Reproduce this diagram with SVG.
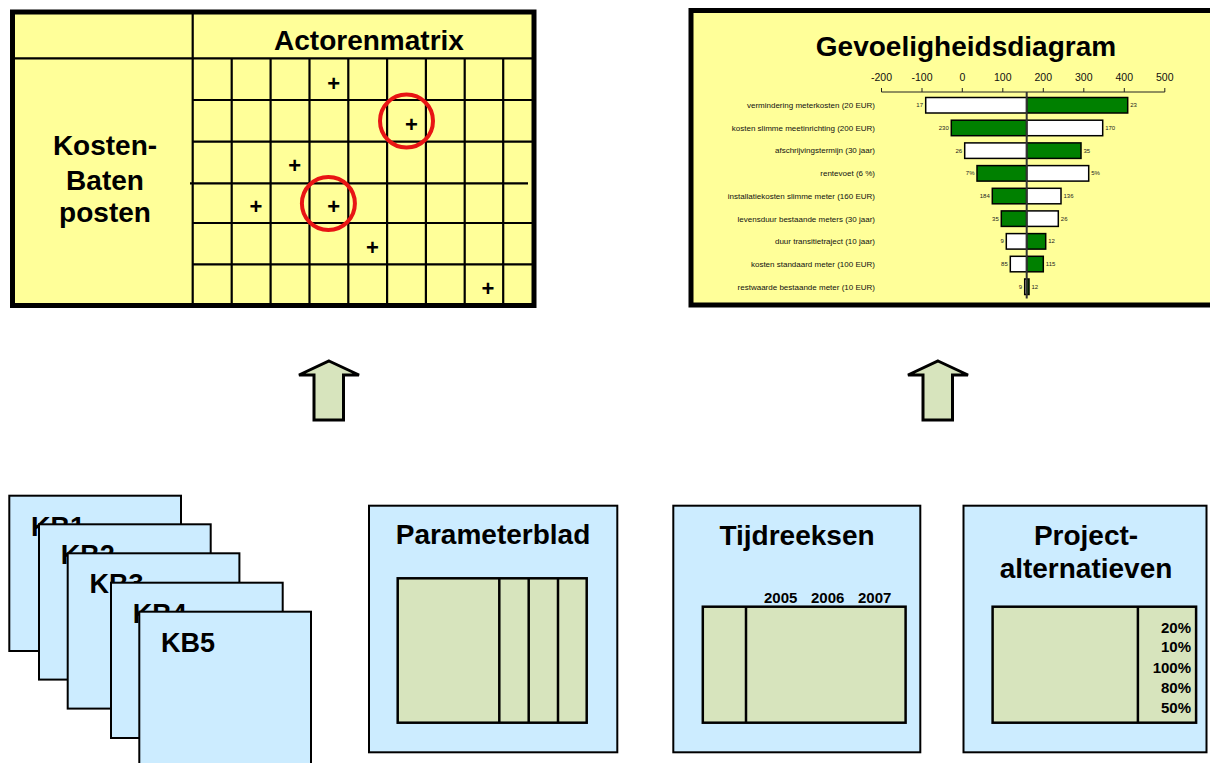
<svg xmlns="http://www.w3.org/2000/svg" width="1210" height="763" viewBox="0 0 1210 763">
<style>
text{font-family:"Liberation Sans",Arial,sans-serif;fill:#000}
.b{font-weight:bold}
.t{font-size:28px;font-weight:bold;text-anchor:middle}
.plus{font-size:22px;font-weight:bold;text-anchor:middle}
.grid{stroke:#000;stroke-width:2.2;fill:none}
.ring{fill:none;stroke:#E81414;stroke-width:4}
.rl{font-size:8px;text-anchor:end;fill:#111}
.vl{font-size:6px;fill:#222}
.vll{font-size:6px;fill:#222;text-anchor:end}
.tick{font-size:10.5px;text-anchor:middle;fill:#111}
.bw{fill:#FFFFFF;stroke:#000;stroke-width:1.5}
.bg{fill:#008000;stroke:#000;stroke-width:1.5}
.kb{fill:#CCECFF;stroke:#000;stroke-width:2}
.kbt{font-size:27px;font-weight:bold}
.box{fill:#CCECFF;stroke:#000;stroke-width:2}
.inner{fill:#D7E4BD;stroke:#000;stroke-width:2.5}
.yr{font-size:15px;font-weight:bold}
.pc{font-size:15px;font-weight:bold;text-anchor:end}
.arr{fill:#D7E4BD;stroke:#000;stroke-width:3;stroke-linejoin:miter}
</style>
<rect width="1210" height="763" fill="#FFFFFF"/>

<g id="actorenmatrix">
<rect x="12.5" y="12" width="521.5" height="293.5" fill="#FFFF99" stroke="#000" stroke-width="5"/>
<path class="grid" d="M12.5,58.3H534 M192.7,12V305.5 M192.7,100H534 M192.7,141.7H534 M190,183.3H528 M192.7,223H534 M192.7,264.3H534 M231.7,58.3V305.5 M270.6,58.3V305.5 M309.5,58.3V305.5 M348.3,58.3V305.5 M387.1,58.3V305.5 M425.9,58.3V305.5 M464.7,58.3V305.5 M503.2,58.3V305.5"/>
<text class="t" x="369" y="50">Actorenmatrix</text>
<text class="t" x="105" y="155">Kosten-</text>
<text class="t" x="105" y="190">Baten</text>
<text class="t" x="105" y="222">posten</text>
<text class="plus" x="333.8" y="90.8">+</text>
<text class="plus" x="411.4" y="131.8">+</text>
<text class="plus" x="294.8" y="173.2">+</text>
<text class="plus" x="255.9" y="214.2">+</text>
<text class="plus" x="333.8" y="214.2">+</text>
<text class="plus" x="372.4" y="254.8">+</text>
<text class="plus" x="487.9" y="295.8">+</text>
<circle class="ring" cx="406.5" cy="121" r="26.5"/>
<circle class="ring" cx="328.4" cy="203.5" r="26.5"/>
</g>

<g id="gevoeligheidsdiagram">
<rect x="691" y="10.5" width="600" height="294.5" fill="#FFFF99" stroke="#000" stroke-width="5"/>
<text class="t" x="966" y="56">Gevoeligheidsdiagram</text>
<g>
<text class="tick" x="881.5" y="81">-200</text>
<text class="tick" x="922" y="81">-100</text>
<text class="tick" x="962.3" y="81">0</text>
<text class="tick" x="1002.8" y="81">100</text>
<text class="tick" x="1043.3" y="81">200</text>
<text class="tick" x="1083.8" y="81">300</text>
<text class="tick" x="1124.3" y="81">400</text>
<text class="tick" x="1164.8" y="81">500</text>
<path d="M881.5,92H1164.8 M881.5,88V92 M922,88V92 M962.3,88V92 M1002.8,88V92 M1043.3,88V92 M1083.8,88V92 M1124.3,88V92 M1164.8,88V92" stroke="#222" stroke-width="1" fill="none"/>
</g>
<g>
<text class="rl" x="875" y="108">vermindering meterkosten (20 EUR)</text>
<text class="rl" x="875" y="130.7">kosten slimme meetinrichting (200 EUR)</text>
<text class="rl" x="875" y="153.4">afschrijvingstermijn (30 jaar)</text>
<text class="rl" x="875" y="176.1">rentevoet (6 %)</text>
<text class="rl" x="875" y="198.8">installatiekosten slimme meter (160 EUR)</text>
<text class="rl" x="875" y="221.5">levensduur bestaande meters (30 jaar)</text>
<text class="rl" x="875" y="244.2">duur transitietraject (10 jaar)</text>
<text class="rl" x="875" y="266.9">kosten standaard meter (100 EUR)</text>
<text class="rl" x="875" y="289.6">restwaarde bestaande meter (10 EUR)</text>
</g>
<g>
<rect class="bw" x="925.7" y="97.5" width="101" height="15.5"/>
<rect class="bg" x="1026.7" y="97.5" width="101" height="15.5"/>
<rect class="bg" x="951.3" y="120.2" width="75.4" height="15.5"/>
<rect class="bw" x="1026.7" y="120.2" width="76" height="15.5"/>
<rect class="bw" x="964.7" y="142.9" width="62" height="15.5"/>
<rect class="bg" x="1026.7" y="142.9" width="54.3" height="15.5"/>
<rect class="bg" x="977" y="165.6" width="49.7" height="15.5"/>
<rect class="bw" x="1026.7" y="165.6" width="62" height="15.5"/>
<rect class="bg" x="992.3" y="188.3" width="34.4" height="15.5"/>
<rect class="bw" x="1026.7" y="188.3" width="34.3" height="15.5"/>
<rect class="bg" x="1001.3" y="210.9" width="25.4" height="15.5"/>
<rect class="bw" x="1026.7" y="210.9" width="31.6" height="15.5"/>
<rect class="bw" x="1006.3" y="233.6" width="20.4" height="15.5"/>
<rect class="bg" x="1026.7" y="233.6" width="19" height="15.5"/>
<rect class="bw" x="1010.3" y="256.3" width="16.4" height="15.5"/>
<rect class="bg" x="1026.7" y="256.3" width="16.6" height="15.5"/>
<rect class="bw" x="1024.7" y="279" width="2" height="15.5"/>
<rect class="bg" x="1026.7" y="279" width="2.3" height="15.5"/>
</g>
<line x1="1026.7" y1="92" x2="1026.7" y2="298.5" stroke="#333" stroke-width="2"/>
<g>
<text class="vll" x="923" y="107.3">17</text>
<text class="vl" x="1130.2" y="107.3">23</text>
<text class="vll" x="948.8" y="130">230</text>
<text class="vl" x="1105.2" y="130">170</text>
<text class="vll" x="962.2" y="152.7">26</text>
<text class="vl" x="1083.5" y="152.7">35</text>
<text class="vll" x="974.5" y="175.4">7%</text>
<text class="vl" x="1091.2" y="175.4">5%</text>
<text class="vll" x="989.8" y="198.1">184</text>
<text class="vl" x="1063.5" y="198.1">136</text>
<text class="vll" x="998.8" y="220.7">35</text>
<text class="vl" x="1060.8" y="220.7">26</text>
<text class="vll" x="1003.8" y="243.4">9</text>
<text class="vl" x="1048.2" y="243.4">12</text>
<text class="vll" x="1007.8" y="266.1">85</text>
<text class="vl" x="1045.8" y="266.1">115</text>
<text class="vll" x="1022.2" y="288.8">9</text>
<text class="vl" x="1031.5" y="288.8">12</text>
</g>
</g>

<g id="connectors">
<path class="arr" d="M329,361 L359,375 L343.5,375 L343.5,420 L314,420 L314,375 L299,375 Z"/>
<path class="arr" d="M938,361 L968,375 L952.5,375 L952.5,420 L923,420 L923,375 L908,375 Z"/>
</g>

<g id="kb1"><rect class="kb" x="9.3" y="495.7" width="171.7" height="155.3"/><text class="kbt" x="31" y="535.7">KB1</text></g>
<g id="kb2"><rect class="kb" x="39" y="524.3" width="171.7" height="155.3"/><text class="kbt" x="60.7" y="564.3">KB2</text></g>
<g id="kb3"><rect class="kb" x="67.7" y="553.3" width="171.7" height="155.3"/><text class="kbt" x="89.4" y="593.3">KB3</text></g>
<g id="kb4"><rect class="kb" x="111" y="582.7" width="171.7" height="155.3"/><text class="kbt" x="132.7" y="622.7">KB4</text></g>
<g id="kb5"><rect class="kb" x="139.3" y="611.7" width="171.7" height="160"/><text class="kbt" x="161" y="651.7">KB5</text></g>

<g id="parameterblad">
<rect class="box" x="369" y="505.7" width="248.3" height="246.6"/>
<text class="t" x="493" y="544.3">Parameterblad</text>
<rect class="inner" x="397.7" y="578.3" width="189" height="144.4"/>
<path d="M499.3,578.3V722.7 M528.7,578.3V722.7 M558,578.3V722.7" stroke="#000" stroke-width="2.5"/>
</g>

<g id="tijdreeksen">
<rect class="box" x="673.3" y="505.7" width="247" height="246.6"/>
<text class="t" x="797" y="545">Tijdreeksen</text>
<text class="yr" x="764" y="603.3">2005</text>
<text class="yr" x="811" y="603.3">2006</text>
<text class="yr" x="858" y="603.3">2007</text>
<rect class="inner" x="702.8" y="606.7" width="202.8" height="116"/>
<path d="M746,606.7V722.7" stroke="#000" stroke-width="2.5"/>
</g>

<g id="projectalternatieven">
<rect class="box" x="963.5" y="505.7" width="243" height="246.6"/>
<text class="t" x="1086" y="545">Project-</text>
<text class="t" x="1086" y="578.3">alternatieven</text>
<rect class="inner" x="992.6" y="606.7" width="203.5" height="116"/>
<path d="M1137.9,606.7V722.7" stroke="#000" stroke-width="2.5"/>
<text class="pc" x="1191" y="632.7">20%</text>
<text class="pc" x="1191" y="652.3">10%</text>
<text class="pc" x="1191" y="672.7">100%</text>
<text class="pc" x="1191" y="693.3">80%</text>
<text class="pc" x="1191" y="713.3">50%</text>
</g>
</svg>
